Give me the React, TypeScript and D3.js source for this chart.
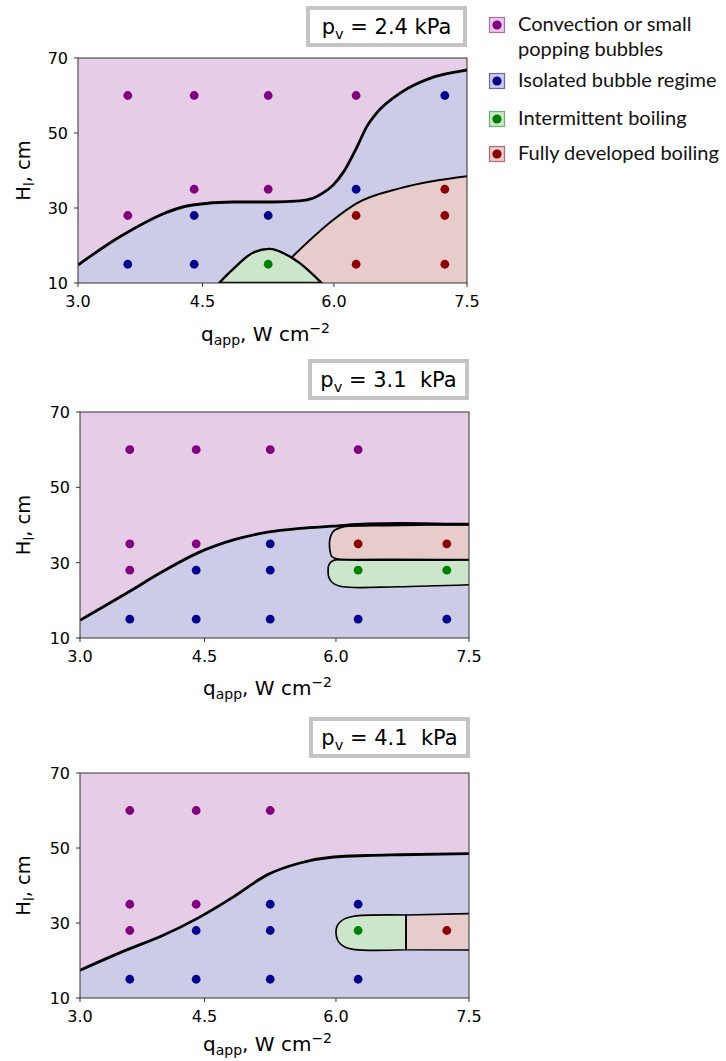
import React from "react";
import * as d3 from "d3";

// ---------- data ----------
const LEGEND_LINES: string[][] = [
  ["Convection or small", "popping bubbles"],
  ["Isolated bubble regime"],
  ["Intermittent boiling"],
  ["Fully developed boiling"],
];
const REGIME_COLORS = ["#800080", "#00008b", "#008000", "#8b0000"];
const PRESSURE_LABELS = ["2.4 kPa", "3.1  kPa", "4.1  kPa"];
const X_TICKS = [3.0, 4.5, 6.0, 7.5];
const Y_TICKS = [10, 30, 50, 70];

type Pt = [number, number];
type Obs = [number, number, number]; // q, H, regime index

// observations per pressure
const POINTS_24: Obs[] = [
  [3.6, 60, 0], [3.6, 28, 0], [3.6, 15, 1],
  [4.4, 60, 0], [4.4, 35, 0], [4.4, 28, 1], [4.4, 15, 1],
  [5.25, 60, 0], [5.25, 35, 0], [5.25, 28, 1], [5.25, 15, 2],
  [6.25, 60, 0], [6.25, 35, 1], [6.25, 28, 3], [6.25, 15, 3],
  [7.25, 60, 1], [7.25, 35, 3], [7.25, 28, 3], [7.25, 15, 3],
];
const POINTS_31: Obs[] = [
  [3.6, 60, 0], [3.6, 35, 0], [3.6, 28, 0], [3.6, 15, 1],
  [4.4, 60, 0], [4.4, 35, 0], [4.4, 28, 1], [4.4, 15, 1],
  [5.25, 60, 0], [5.25, 35, 1], [5.25, 28, 1], [5.25, 15, 1],
  [6.25, 60, 0], [6.25, 35, 3], [6.25, 28, 2], [6.25, 15, 1],
  [7.25, 35, 3], [7.25, 28, 2], [7.25, 15, 1],
];
const POINTS_41: Obs[] = [
  [3.6, 60, 0], [3.6, 35, 0], [3.6, 28, 0], [3.6, 15, 1],
  [4.4, 60, 0], [4.4, 35, 0], [4.4, 28, 1], [4.4, 15, 1],
  [5.25, 60, 0], [5.25, 35, 1], [5.25, 28, 1], [5.25, 15, 1],
  [6.25, 35, 1], [6.25, 28, 2], [6.25, 15, 1],
  [7.25, 28, 3],
];

// regime boundaries (q, H)
const CONV_24: Pt[] = [[3.0, 14.8], [3.54, 22.8], [4.38, 30.8], [4.84, 31.6], [5.3, 31.6], [5.61, 31.9], [5.76, 32.6], [5.88, 34.1], [5.99, 36.1], [6.11, 39.7], [6.26, 46.3], [6.37, 51.7], [6.48, 55.3], [6.75, 60.7], [7.12, 64.9], [7.5, 66.8], [7.7, 67.5]];
const FULL_24: Pt[] = [[5.52, 16.9], [5.99, 26.8], [6.26, 31.3], [6.75, 35.3], [7.5, 38.5], [7.7, 39.0]];
const INTER_24: Pt[] = [[4.69, 10], [4.84, 13.5], [5.07, 18], [5.27, 19.1], [5.42, 18], [5.61, 15.3], [5.86, 10]];

const CONV_31: Pt[] = [[3.0, 14.7], [3.57, 22], [3.97, 27.3], [4.42, 32.6], [4.84, 36.1], [5.22, 38.1], [5.59, 39.1], [5.97, 39.7], [6.35, 40.3], [6.72, 40.4], [7.5, 40.2], [7.7, 40.2]];
const FULL_31: Pt[] = [[7.7, 40.1], [7.0, 40.0], [6.4, 39.8], [6.08, 39.5], [5.97, 38.3], [5.93, 36.1], [5.93, 33.5], [5.95, 31.7], [6.01, 31.0], [6.08, 30.8], [7.7, 30.8]];
const INTER_31: Pt[] = [[7.7, 30.8], [6.08, 30.8], [5.97, 30.6], [5.92, 29.5], [5.91, 27.7], [5.92, 26.0], [5.97, 24.5], [6.08, 23.6], [6.7, 23.6], [7.7, 24.3]];

const CONV_41: Pt[] = [[3.0, 17.4], [3.57, 22.9], [3.97, 26.4], [4.42, 31.3], [4.84, 37.1], [5.22, 42.9], [5.59, 46], [5.97, 47.6], [6.35, 48], [6.72, 48.2], [7.5, 48.5], [7.7, 48.55]];
const INTER_41: Pt[] = [[6.79, 32.12], [6.2, 31.8], [6.08, 30.9], [6.015, 29.3], [6.0, 27.3], [6.026, 25.1], [6.1, 23.6], [6.215, 22.9], [6.79, 22.85]];
const FULL_41: Pt[] = [[6.79, 32.12], [7.7, 32.6], [7.7, 22.8], [6.79, 22.85]];

// ---------- layout ----------
const X_FRACS = [0, 0.32, 0.658, 1];
const FONT = "DejaVu Sans, sans-serif";

type Region = { pts: Pt[]; regime: number; mode: "under" | "closed"; linear?: boolean; sw: number };
type PanelSpec = {
  left: number; right: number; top: number; bottom: number;
  box: [number, number, number, number];
  xlabDy: number;
  label: string;
  conv: Pt[];
  regions: Region[];
  points: Obs[];
};

const PANELS: PanelSpec[] = [
  {
    left: 78, right: 467, top: 58, bottom: 283, box: [306, 6, 467, 47], xlabDy: 58, label: PRESSURE_LABELS[0],
    conv: CONV_24,
    regions: [
      { pts: FULL_24, regime: 3, mode: "under", sw: 2 },
      { pts: INTER_24, regime: 2, mode: "closed", sw: 2.4 },
    ],
    points: POINTS_24,
  },
  {
    left: 80, right: 469, top: 412, bottom: 638, box: [308, 359, 469, 400], xlabDy: 57, label: PRESSURE_LABELS[1],
    conv: CONV_31,
    regions: [
      { pts: FULL_31, regime: 3, mode: "closed", sw: 1.7 },
      { pts: INTER_31, regime: 2, mode: "closed", sw: 1.7 },
    ],
    points: POINTS_31,
  },
  {
    left: 80, right: 469, top: 773, bottom: 998, box: [309, 717, 470, 758], xlabDy: 53, label: PRESSURE_LABELS[2],
    conv: CONV_41,
    regions: [
      { pts: INTER_41, regime: 2, mode: "closed", sw: 1.6 },
      { pts: FULL_41, regime: 3, mode: "closed", linear: true, sw: 1.6 },
    ],
    points: POINTS_41,
  },
];

function Panel({ p, idx }: { p: PanelSpec; idx: number }) {
  const x = d3.scaleLinear().domain(X_TICKS).range(X_FRACS.map((f) => p.left + f * (p.right - p.left)));
  const y = d3.scaleLinear().domain([10, 70]).range([p.bottom, p.top]);
  const curve = d3.curveCatmullRom.alpha(0.5);
  const line = d3.line<Pt>().x((d) => x(d[0])).y((d) => y(d[1])).curve(curve);
  const lineMono = d3.line<Pt>().x((d) => x(d[0])).y((d) => y(d[1])).curve(d3.curveMonotoneX);
  const lineLin = d3.line<Pt>().x((d) => x(d[0])).y((d) => y(d[1]));
  const areaMono = d3.area<Pt>().x((d) => x(d[0])).y0(p.bottom + 5).y1((d) => y(d[1])).curve(d3.curveMonotoneX);
  const clipId = `clip-${idx}`;
  const w = p.right - p.left;
  const h = p.bottom - p.top;
  const cx = (p.left + p.right) / 2;
  const cy = (p.top + p.bottom) / 2;
  const [bx0, by0, bx1, by1] = p.box;

  return (
    <g>
      <defs>
        <clipPath id={clipId}>
          <rect x={p.left} y={p.top} width={w} height={h} />
        </clipPath>
      </defs>
      <g clipPath={`url(#${clipId})`}>
        <rect x={p.left} y={p.top} width={w} height={h} fill={REGIME_COLORS[0]} fillOpacity={0.2} />
        <path d={areaMono(p.conv) || ""} fill="#fff" />
        <path d={areaMono(p.conv) || ""} fill={REGIME_COLORS[1]} fillOpacity={0.2} />
        {p.regions.map((r, i) => {
          if (r.mode === "under") {
            return (
              <g key={i}>
                <path d={areaMono(r.pts) || ""} fill="#fff" />
                <path d={areaMono(r.pts) || ""} fill={REGIME_COLORS[r.regime]} fillOpacity={0.2} />
              </g>
            );
          }
          const d = ((r.linear ? lineLin(r.pts) : line(r.pts)) || "") + "Z";
          return (
            <g key={i}>
              <path d={d} fill="#fff" />
              <path d={d} fill={REGIME_COLORS[r.regime]} fillOpacity={0.2} />
            </g>
          );
        })}
        {p.regions.map((r, i) => {
          const d = r.mode === "under" ? lineMono(r.pts) || "" : ((r.linear ? lineLin(r.pts) : line(r.pts)) || "") + "Z";
          return <path key={"s" + i} d={d} fill="none" stroke="#000" strokeWidth={r.sw} strokeLinejoin="round" />;
        })}
        <path d={lineMono(p.conv) || ""} fill="none" stroke="#000" strokeWidth={2.8} />
        {p.points.map((o, i) => (
          <circle key={"c" + i} cx={x(o[0])} cy={y(o[1])} r={4.4} fill={REGIME_COLORS[o[2]]} />
        ))}
      </g>
      <rect x={p.left} y={p.top} width={w} height={h} fill="none" stroke="#333" strokeWidth={1} />
      {X_TICKS.map((t) => (
        <g key={"x" + t}>
          <line x1={x(t)} x2={x(t)} y1={p.bottom} y2={p.bottom + 4} stroke="#333" />
          <text x={x(t)} y={p.bottom + 24} textAnchor="middle" fontSize={16} fontFamily={FONT}>
            {t.toFixed(1)}
          </text>
        </g>
      ))}
      {Y_TICKS.map((t) => (
        <g key={"y" + t}>
          <line x1={p.left - 4} x2={p.left} y1={y(t)} y2={y(t)} stroke="#333" />
          <text x={p.left - 10} y={y(t) + 6} textAnchor="end" fontSize={16} fontFamily={FONT}>
            {t}
          </text>
        </g>
      ))}
      <text x={cx - 7} y={p.bottom + p.xlabDy} textAnchor="middle" fontSize={20} fontFamily={FONT}>
        q<tspan fontSize={14} dy={3.5}>app</tspan>
        <tspan dy={-3.5} style={{ whiteSpace: "pre" }}>, W cm</tspan>
        <tspan fontSize={14} dy={-8}>−2</tspan>
      </text>
      <text transform={`translate(30,${cy}) rotate(-90)`} textAnchor="middle" fontSize={19.5} fontFamily={FONT}>
        H<tspan fontSize={13.5} dy={4}>l</tspan>
        <tspan dy={-4} style={{ whiteSpace: "pre" }}>, cm</tspan>
      </text>
      <rect x={bx0 + 2} y={by0 + 2} width={bx1 - bx0 - 4} height={by1 - by0 - 4} fill="#fff" stroke="#c4c4c4" strokeWidth={4} />
      <text x={(bx0 + bx1) / 2} y={by1 - 13} textAnchor="middle" fontSize={21} fontFamily={FONT} style={{ whiteSpace: "pre" }}>
        p<tspan fontSize={14.5} dy={5}>v</tspan>
        <tspan dy={-5}>{` = ${p.label}`}</tspan>
      </text>
    </g>
  );
}

function Legend() {
  const centers = [25, 81, 119, 154];
  return (
    <g>
      {LEGEND_LINES.map((lines, i) => (
        <g key={i}>
          <rect x={489.5} y={centers[i] - 7.5} width={15} height={15} fill="#fff" />
          <rect x={489.5} y={centers[i] - 7.5} width={15} height={15} fill={REGIME_COLORS[i]} fillOpacity={0.2} stroke={REGIME_COLORS[i]} strokeOpacity={0.55} strokeWidth={1.2} />
          <circle cx={497} cy={centers[i]} r={4.6} fill={REGIME_COLORS[i]} />
          {lines.map((ln, j) => (
            <text key={j} x={518} y={centers[i] + 6 + j * 25} fontSize={20} fontFamily="Lato, sans-serif" fill="#111">
              {ln}
            </text>
          ))}
        </g>
      ))}
    </g>
  );
}

export default function App() {
  return (
    <svg width={726} height={1061} style={{ position: "absolute", left: 0, top: 0, background: "#fff" }}>
      <rect width={726} height={1061} fill="#fff" />
      {PANELS.map((p, i) => (
        <Panel key={i} p={p} idx={i} />
      ))}
      <Legend />
    </svg>
  );
}
